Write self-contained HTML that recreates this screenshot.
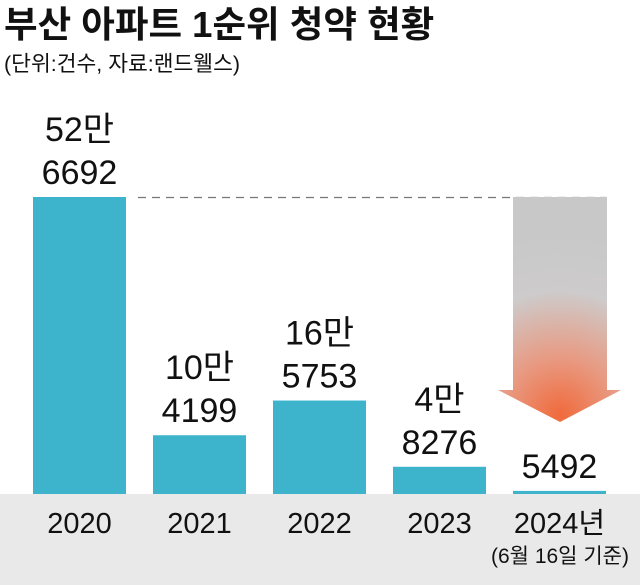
<!DOCTYPE html>
<html><head><meta charset="utf-8"><style>
body{margin:0;background:#fff;}
svg{display:block;font-family:"Liberation Sans","Noto Sans CJK KR",sans-serif;}
</style></head><body>
<svg width="640" height="585" viewBox="0 0 640 585">
<defs>
<radialGradient id="ag" cx="560" cy="415" r="190" gradientUnits="userSpaceOnUse">
<stop offset="0" stop-color="#f06a3c"/>
<stop offset="0.3" stop-color="#e89a82"/>
<stop offset="0.65" stop-color="#cdcbcb"/>
<stop offset="1" stop-color="#c8c8c8"/>
</radialGradient>
</defs>
<text x="4" y="37" font-size="36.5" font-weight="bold" fill="#111">부산 아파트 1순위 청약 현황</text>
<text x="4" y="71" font-size="21.5" fill="#111">(단위:건수, 자료:랜드웰스)</text>
<rect x="0" y="494" width="640" height="91" fill="#e9e9e9"/>
<line x1="138" y1="197.5" x2="606" y2="197.5" stroke="#777" stroke-width="1.3" stroke-dasharray="8,6"/>
<polygon points="513,197 607,197 607,390 621,390 560,422 498,390 513,390" fill="url(#ag)"/>
<g id="bars"></g>
<text x="560" y="563" font-size="21" text-anchor="middle" fill="#111">(6월 16일 기준)</text>
</svg>
<script>
const categories=["2020","2021","2022","2023","2024년"];
const values=[526692,104199,165753,48276,5492];
const labelTop=["52만","10만","16만","4만",""];
const labelBottom=["6692","4199","5753","8276","5492"];
const base=494, scale=297/526692;
const xAt=i=>33+i*120, bw=93;
const g=document.getElementById('bars');
const NS="http://www.w3.org/2000/svg";
categories.forEach((c,i)=>{
  const h=Math.max(values[i]*scale,3);
  const r=document.createElementNS(NS,'rect');
  r.setAttribute('x',xAt(i));r.setAttribute('y',base-h);r.setAttribute('width',bw);r.setAttribute('height',h);r.setAttribute('fill','#3db4cc');
  
  
  g.appendChild(r);
  const cx=xAt(i)+bw/2, top=base-h;
  const t2=document.createElementNS(NS,'text');
  t2.setAttribute('x',cx);t2.setAttribute('y',top-13);t2.setAttribute('font-size','34');t2.setAttribute('text-anchor','middle');t2.setAttribute('fill','#111');
  t2.textContent=labelBottom[i];
  
  
  g.appendChild(t2);
  if(labelTop[i]){
    const t1=document.createElementNS(NS,'text');
    t1.setAttribute('x',cx);t1.setAttribute('y',top-56);t1.setAttribute('font-size','34');t1.setAttribute('text-anchor','middle');t1.setAttribute('fill','#111');
    t1.textContent=labelTop[i];
    
    
    g.appendChild(t1);
  }
  const xl=document.createElementNS(NS,'text');
  xl.setAttribute('x',cx);xl.setAttribute('y',533);xl.setAttribute('font-size','29');xl.setAttribute('text-anchor','middle');xl.setAttribute('fill','#111');
  xl.textContent=c;
  
  
  g.appendChild(xl);
});
</script>
</body></html>
